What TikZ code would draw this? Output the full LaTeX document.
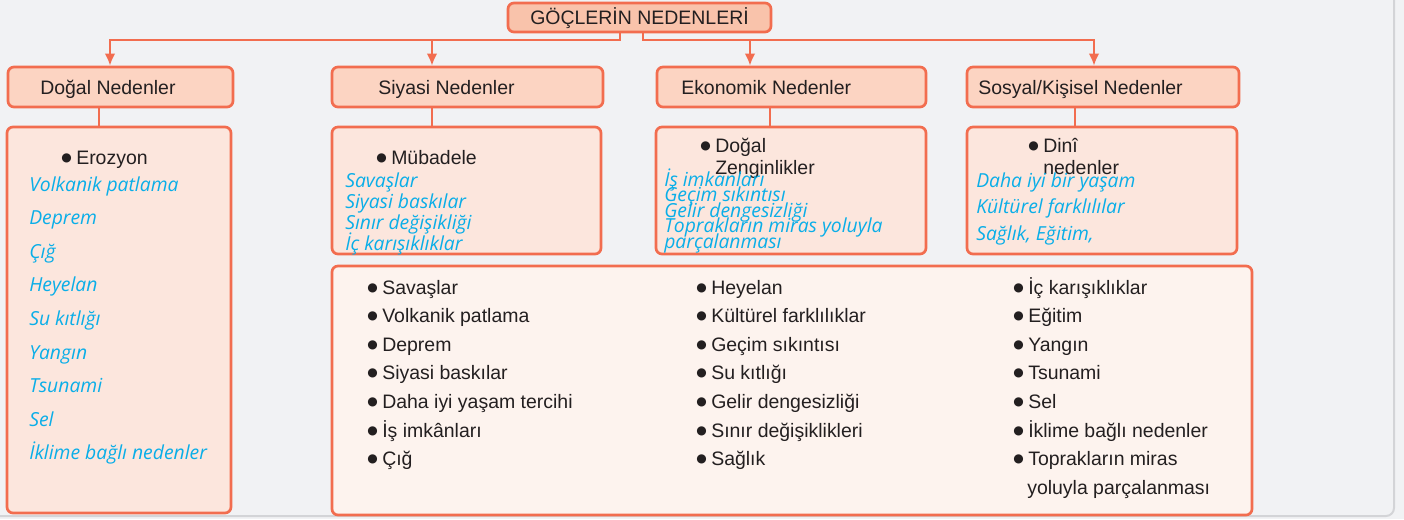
\documentclass[tikz,border=0pt]{standalone}
\usepackage{fontspec}
\setmainfont{Liberation Sans}
\newfontfamily\osans{Open Sans}
\newfontfamily\dejavu{DejaVu Sans}
\usetikzlibrary{arrows.meta,fit}
\definecolor{org}{HTML}{F26D4F}
\definecolor{topfill}{HTML}{F9C3AB}
\definecolor{catfill}{HTML}{FCD4C2}
\definecolor{confill}{HTML}{FCE6DD}
\definecolor{bigfill}{HTML}{FDF3EE}
\definecolor{bgc}{HTML}{F1F2F4}
\definecolor{framec}{HTML}{D3D4D7}
\definecolor{ink}{HTML}{231F20}
\definecolor{cyantext}{HTML}{0AAEE8}
\newcommand\myb{\makebox[11.25pt][l]{\raisebox{2.2pt}{\dejavu\fontsize{9}{9}\selectfont ●}}}
\begin{document}
\begin{tikzpicture}[x=0.75pt,y=-0.75pt,
  box/.style={draw=org, line width=2pt, rounded corners=4.5pt, inner sep=0pt},
  topbox/.style={box, fill=topfill},
  catbox/.style={box, fill=catfill},
  conbox/.style={box, fill=confill},
  bigbox/.style={box, fill=bigfill},
  txt/.style={font=\fontsize{14.6}{17}\selectfont, text=ink, inner sep=0pt, anchor=base west},
  bluetxt/.style={font=\osans\itshape\fontsize{14.5}{16}\selectfont, text=cyantext, inner sep=0pt, anchor=base west},
  conn/.style={draw=org, line width=1.7pt},
  arr/.style={conn, -{Latex[width=8pt,length=9pt]}}
]
\useasboundingbox (0,0) rectangle (1404,519);
\fill[bgc] (0,0) rectangle (1404,519);
\draw[framec, line width=1.5pt, rounded corners=6pt] (1394,-10) -- (1394,516) -- (-10,516);

% boxes
\node[topbox, fit={(508,3) (771,32)}] (top) {};
\node[catbox, fit={(8,67) (233,107)}] (dogal) {};
\node[catbox, fit={(332,67) (603,107)}] (siyasi) {};
\node[catbox, fit={(657,67) (926,107)}] (eko) {};
\node[catbox, fit={(967,67) (1239,107)}] (sosyal) {};
\node[conbox, fit={(7,127) (231,513)}] (dogalc) {};
\node[conbox, fit={(332,127) (601,254)}] (siyasic) {};
\node[conbox, fit={(656,127) (926,254)}] (ekoc) {};
\node[conbox, fit={(967,127) (1237,254)}] (sosyalc) {};
\node[bigbox, fit={(332,266) (1252,515)}] (big) {};

% headings
\node[txt, anchor=base] (toptxt) at (639.5,24) {GÖÇLERİN NEDENLERİ};
\node[txt] (dogaltxt) at (40,94) {Doğal Nedenler};
\node[txt] (siyasitxt) at (378,94) {Siyasi Nedenler};
\node[txt] (ekotxt) at (681,94) {Ekonomik Nedenler};
\node[txt] (sosyaltxt) at (978,94) {Sosyal/Kişisel Nedenler};

% connectors
\coordinate (sL) at (620,40);
\coordinate (sR) at (643,40);
\coordinate (a1) at (110,0);
\coordinate (a2) at (432,0);
\coordinate (a3) at (750,0);
\coordinate (a4) at (1094,0);
\draw[arr] (top.south -| sL) -- (sL) -| (dogal.north -| a1);
\draw[arr] (sL -| a2) -- (siyasi.north -| a2);
\draw[arr] (top.south -| sR) -- (sR) -| (sosyal.north -| a4);
\draw[arr] (sR -| a3) -- (eko.north -| a3);
\coordinate (l1) at (99,0);
\coordinate (l2) at (432,0);
\coordinate (l3) at (770,0);
\coordinate (l4) at (1075,0);
\draw[conn] (dogal.south -| l1) -- (dogalc.north -| l1);
\draw[conn] (siyasi.south -| l2) -- (siyasic.north -| l2);
\draw[conn] (eko.south -| l3) -- (ekoc.north -| l3);
\draw[conn] (sosyal.south -| l4) -- (sosyalc.north -| l4);

% Doğal content
\node[txt] (dg) at (61,164) {\myb Erozyon};
\foreach \t [count=\i from 0] in {Volkanik patlama, Deprem, Çığ, Heyelan, Su kıtlığı, Yangın, Tsunami, Sel, İklime bağlı nedenler}
  \node[bluetxt] (dg\i) at (29,{191+33.6*\i}) {\t};

% Siyasi content
\node[txt] (sy) at (376,164) {\myb Mübadele};
\foreach \t [count=\i from 0] in {Savaşlar, Siyasi baskılar, Sınır değişikliği, İç karışıklıklar}
  \node[bluetxt] (sy\i) at (345,{187+21*\i}) {\t};

% Ekonomik content
\node[txt] (ek) at (700,152) {\myb Doğal};
\node[txt] (ekb) at (715,174) {Zenginlikler};
\foreach \t [count=\i from 0] in {İş imkanları, Geçim sıkıntısı, Gelir dengesizliği, Toprakların miras yoluyla, parçalanması}
  \node[bluetxt] (ek\i) at (664,{186+15.6*\i}) {\t};

% Sosyal content
\node[txt] (so) at (1028,152) {\myb Dinî};
\node[txt] (sob) at (1043,174) {nedenler};
\foreach \t [count=\i from 0] in {Daha iyi bir yaşam, Kültürel farklılılar, {Sağlık, Eğitim,}}
  \node[bluetxt] (so\i) at (976,{187+26.5*\i}) {\t};

% Big box columns
\foreach \t [count=\i from 0] in {Savaşlar, Volkanik patlama, Deprem, Siyasi baskılar, Daha iyi yaşam tercihi, İş imkânları, Çığ}
  \node[txt] (ba\i) at (367,{294+28.6*\i}) {\myb\t};
\foreach \t [count=\i from 0] in {Heyelan, Kültürel farklılıklar, Geçim sıkıntısı, Su kıtlığı, Gelir dengesizliği, Sınır değişiklikleri, Sağlık}
  \node[txt] (bb\i) at (696,{294+28.6*\i}) {\myb\t};
\foreach \t [count=\i from 0] in {İç karışıklıklar, Eğitim, Yangın, Tsunami, Sel, İklime bağlı nedenler, Toprakların miras}
  \node[txt] (bc\i) at (1013,{294+28.6*\i}) {\myb\t};
\node[txt] (bc7) at (1027,494) {yoluyla parçalanması};
\end{tikzpicture}
\end{document}
